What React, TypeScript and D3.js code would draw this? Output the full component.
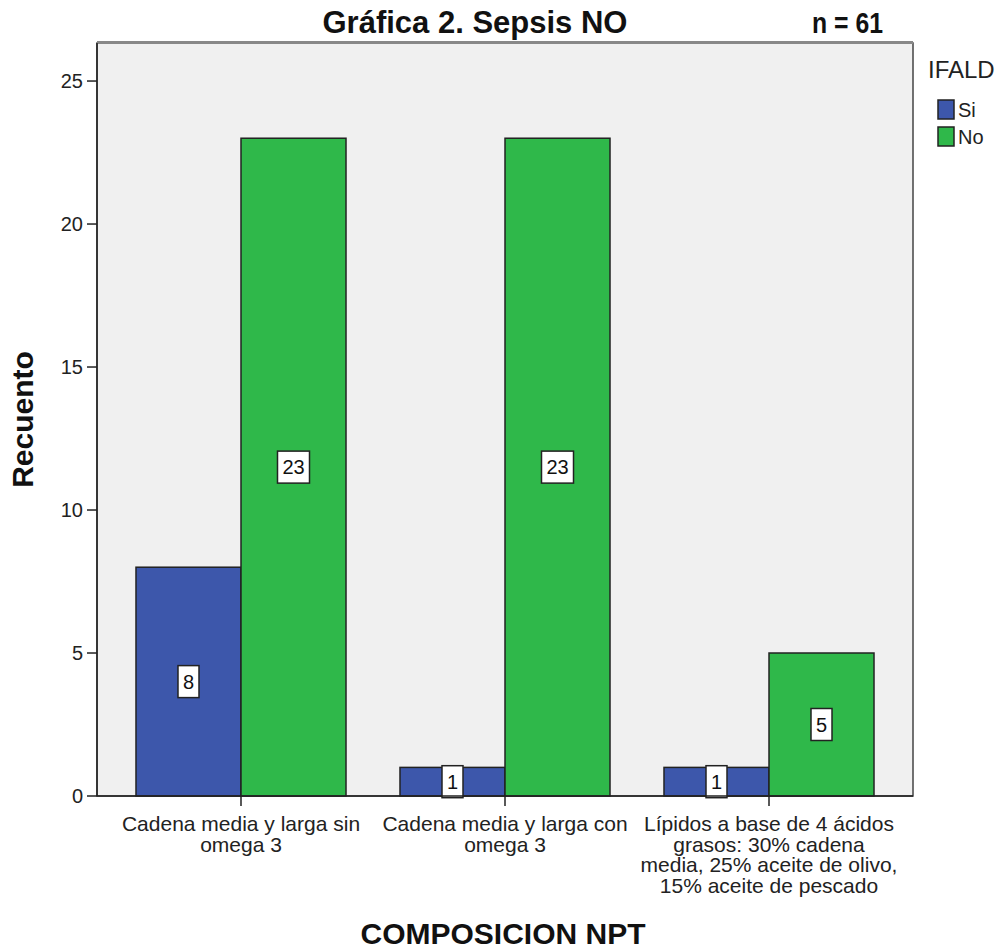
import React from "react";
import * as d3 from "d3";

const categories = [
  ["Cadena media y larga sin", "omega 3"],
  ["Cadena media y larga con", "omega 3"],
  ["Lípidos a base de 4 ácidos", "grasos: 30% cadena", "media, 25% aceite de olivo,", "15% aceite de pescado"],
];
const categoryKeys = ["c1", "c2", "c3"];
const seriesNames = ["Si", "No"];
const siValues = [8, 1, 1];
const noValues = [23, 23, 5];
const yTicks = [0, 5, 10, 15, 20, 25];
const colors = ["#3d57ab", "#2fb84a"];

const W = 1003;
const H = 951;
const FONT = "'Liberation Sans', Arial, sans-serif";

export default function App() {
  const left = 97, right = 913, top = 43, bottom = 796;
  const y = d3.scaleLinear().domain([0, 26.33]).range([bottom, top]);
  const x = d3.scaleBand<string>().domain(categoryKeys).range([left, right]).paddingInner(0.2045).paddingOuter(0.1477);
  const xs = d3.scaleBand<string>().domain(seriesNames).range([0, x.bandwidth()]).padding(0);
  const values = [siValues, noValues];

  return (
    <svg width={W} height={H} style={{ display: "block", position: "absolute", left: 0, top: 0, background: "#fff" }} fontFamily={FONT}>
      {/* plot background */}
      <rect x={left} y={top} width={right - left} height={bottom - top} fill="#f0f0f0" stroke="#444" strokeWidth={1.5} />
      <line x1={left} x2={right} y1={top - 0.5} y2={top - 0.5} stroke="#888" strokeWidth={3} />

      {/* bars */}
      {seriesNames.map((s, si) =>
        categoryKeys.map((c, ci) => {
          const v = values[si][ci];
          const bx = (x(c) as number) + (xs(s) as number);
          return (
            <rect key={s + c} x={bx} y={y(v)} width={xs.bandwidth()} height={y(0) - y(v)} fill={colors[si]} stroke="#222" strokeWidth={1.5} />
          );
        })
      )}

      {/* value labels */}
      {seriesNames.map((s, si) =>
        categoryKeys.map((c, ci) => {
          const v = values[si][ci];
          const cx = (x(c) as number) + (xs(s) as number) + xs.bandwidth() / 2;
          const cy = y(v / 2);
          const txt = String(v);
          const bw = txt.length > 1 ? 32 : 21;
          return (
            <g key={"l" + s + c}>
              <rect x={cx - bw / 2} y={cy - 16} width={bw} height={32} fill="#fff" stroke="#222" strokeWidth={1.5} />
              <text x={cx} y={cy + 7} textAnchor="middle" fontSize={20} fill="#111">{txt}</text>
            </g>
          );
        })
      )}

      {/* y axis */}
      <line x1={left} x2={left} y1={top} y2={bottom} stroke="#222" strokeWidth={1.5} />
      {yTicks.map((t) => (
        <g key={t}>
          <line x1={left - 10} x2={left} y1={y(t)} y2={y(t)} stroke="#222" strokeWidth={1.5} />
          <text x={left - 14} y={y(t) + 7} textAnchor="end" fontSize={20} fill="#222">{t}</text>
        </g>
      ))}

      {/* x axis */}
      <line x1={left} x2={right} y1={bottom} y2={bottom} stroke="#222" strokeWidth={1.5} />
      {categoryKeys.map((c, ci) => {
        const cx = (x(c) as number) + x.bandwidth() / 2;
        return (
          <g key={c}>
            <line x1={cx} x2={cx} y1={bottom} y2={bottom + 10} stroke="#222" strokeWidth={1.5} />
            {categories[ci].map((ln, li) => (
              <text key={li} x={cx} y={bottom + 35 + li * 20.5} textAnchor="middle" fontSize={21} fill="#222">{ln}</text>
            ))}
          </g>
        );
      })}

      {/* titles */}
      <text x={475} y={33} textAnchor="middle" fontSize={31} fontWeight="bold" fill="#111">Gráfica 2. Sepsis NO</text>
      <text x={812} y={33} fontSize={30} fontWeight="bold" fill="#111" textLength={71} lengthAdjust="spacingAndGlyphs">n = 61</text>
      <text transform={`translate(33,${(top + bottom) / 2}) rotate(-90)`} textAnchor="middle" fontSize={30} fontWeight="bold" fill="#111">Recuento</text>
      <text x={503} y={944} textAnchor="middle" fontSize={30} fontWeight="bold" fill="#111">COMPOSICION NPT</text>

      {/* legend */}
      <text x={928} y={78} fontSize={24} fill="#222">IFALD</text>
      {seriesNames.map((s, si) => (
        <g key={"lg" + s}>
          <rect x={938} y={100 + si * 27} width={16} height={19} fill={colors[si]} stroke="#222" strokeWidth={1.5} />
          <text x={958} y={117 + si * 27} fontSize={20} fill="#222">{s}</text>
        </g>
      ))}
    </svg>
  );
}
